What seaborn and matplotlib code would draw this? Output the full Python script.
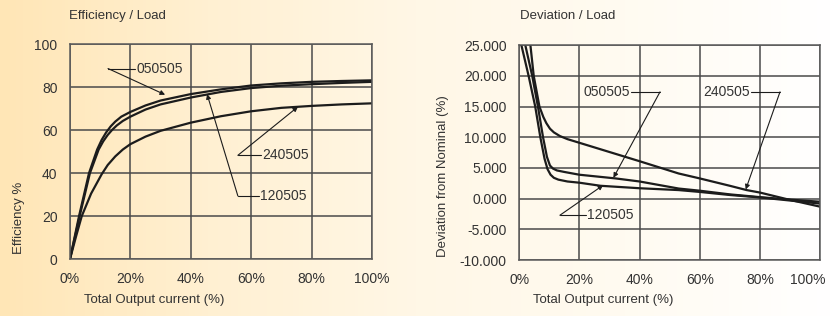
import matplotlib
matplotlib.use("Agg")
import matplotlib.pyplot as plt
from matplotlib.colors import LinearSegmentedColormap
from matplotlib.ticker import FuncFormatter
from matplotlib.transforms import ScaledTranslation
import numpy as np
import pandas as pd
import seaborn as sns

# efficiency vs load (% of total output current)
eff_050505_x = [0, 3.0, 6.3, 9, 10.5, 12, 13.5, 15, 17, 20, 25, 30, 40, 50, 60, 70, 80, 90, 100]
eff_050505_y = [0, 20, 40, 51, 55.5, 59, 61.8, 64, 66.3, 68.5, 71.5, 73.8, 76.8, 79, 80.8, 81.8, 82.5, 82.9, 83.2]
eff_120505_x = [0, 3.2, 6.6, 9.5, 11, 12.5, 14, 15.5, 17.5, 20, 25, 30, 40, 50, 60, 70, 80, 90, 100]
eff_120505_y = [0, 20, 40, 51, 54.8, 57.8, 60.2, 62.2, 64.3, 66.3, 69.6, 72, 75.2, 77.8, 79.6, 80.7, 81.4, 82, 82.5]
eff_240505_x = [0, 2, 3.9, 7, 10.5, 12.5, 15, 17.5, 20, 25, 30, 40, 50, 60, 70, 80, 90, 100]
eff_240505_y = [0, 10.5, 20, 30.5, 39.5, 43.8, 47.8, 51, 53.5, 57, 59.7, 63.5, 66.5, 68.8, 70.4, 71.3, 72, 72.5]

# deviation from nominal vs load
dev_050505_x = [2.0, 4.3, 6.2, 7.9, 9.2, 10.2, 11.2, 12.5, 15, 20, 32, 40, 53, 60, 70, 80, 90, 100]
dev_050505_y = [25, 20, 15, 10, 6.8, 5.4, 4.9, 4.6, 4.35, 3.9, 3.3, 2.8, 1.65, 1.3, 0.7, 0.25, -0.15, -0.5]
dev_120505_x = [0.7, 3.1, 5.3, 7.0, 8.4, 9.4, 10.4, 11.5, 13, 16, 20, 27, 40, 53, 60, 70, 80, 90, 100]
dev_120505_y = [25, 20, 15, 10, 6.5, 4.8, 3.9, 3.4, 3.1, 2.8, 2.6, 2.1, 1.7, 1.4, 1.1, 0.6, 0.2, -0.3, -0.8]
dev_240505_x = [3.7, 4.8, 6.7, 8.0, 9.0, 10.2, 11.5, 13.5, 16, 20, 30, 40, 53, 60, 70, 75.6, 80, 90, 100]
dev_240505_y = [25, 20, 15, 13.3, 12.3, 11.4, 10.8, 10.2, 9.7, 9.1, 7.6, 6.1, 4.1, 3.3, 2.1, 1.4, 1.0, -0.2, -1.3]

x_ticks = [0, 20, 40, 60, 80, 100]
eff_ticks = [0, 20, 40, 60, 80, 100]
dev_ticks = [-10, -5, 0, 5, 10, 15, 20, 25]


def long_frame(series):
    rows = []
    for name, xs, ys in series:
        rows += [{"model": name, "load": x, "value": y} for x, y in zip(xs, ys)]
    return pd.DataFrame(rows)


eff = long_frame([("050505", eff_050505_x, eff_050505_y),
                  ("120505", eff_120505_x, eff_120505_y),
                  ("240505", eff_240505_x, eff_240505_y)])
dev = long_frame([("050505", dev_050505_x, dev_050505_y),
                  ("120505", dev_120505_x, dev_120505_y),
                  ("240505", dev_240505_x, dev_240505_y)])

sns.set_style("white")
plt.rcParams["font.family"] = ["Liberation Sans", "DejaVu Sans"]
TEXT = "#333333"
GRID = "#4a4a4a"
LINE = "#1c1c1c"

fig = plt.figure(figsize=(8.33, 3.16), dpi=100)

# warm gradient background
bg = fig.add_axes([0, 0, 1, 1], zorder=-10)
cmap = LinearSegmentedColormap.from_list(
    "warm", [(0, "#ffe6b6"), (0.25, "#fff0d2"), (0.5, "#fff7e6"), (0.75, "#fffbf1"), (1, "#ffffff")])
bg.imshow(np.linspace(0, 1, 256)[None, :], aspect="auto", cmap=cmap, extent=[0, 1, 0, 1])
bg.axis("off")

ax1 = fig.add_axes([0.084, 0.180, 0.3625, 0.680])
ax2 = fig.add_axes([0.6234, 0.177, 0.361, 0.680])

palette = {"050505": LINE, "120505": LINE, "240505": LINE}
sns.lineplot(data=eff, x="load", y="value", hue="model", palette=palette,
             linewidth=1.6, legend=False, ax=ax1)
sns.lineplot(data=dev, x="load", y="value", hue="model", palette=palette,
             linewidth=1.6, legend=False, ax=ax2)

ax1.set_ylim(0, 100)
ax1.set_yticks(eff_ticks)
ax2.set_ylim(-10, 25)
ax2.set_yticks(dev_ticks)
ax2.yaxis.set_major_formatter(FuncFormatter(lambda v, p: f"{v:.3f}"))

for ax in (ax1, ax2):
    ax.set_facecolor("none")
    ax.set_xlim(0, 100)
    ax.set_xticks(x_ticks)
    ax.set_xticklabels([f"{t}%" for t in x_ticks])
    ax.grid(True, color=GRID, linewidth=1.1)
    ax.set_axisbelow(True)
    for s in ax.spines.values():
        s.set_color("#5a5a5a")
        s.set_linewidth(1.1)
    ax.tick_params(length=0, labelsize=10, colors=TEXT, pad=9)
    ax.set_xlabel("Total Output current (%)", fontsize=9.5, color=TEXT)
    ax.xaxis.set_label_coords(0.28, -0.16)

# last tick label of the right chart sits a little inward, as in the original
last = ax2.get_xticklabels()[-1]
last.set_transform(last.get_transform() + ScaledTranslation(-12 / 100, 0, fig.dpi_scale_trans))

ax1.set_ylabel("Efficiency %", fontsize=9.5, color=TEXT)
ax1.yaxis.set_label_coords(-0.15, 0.19)
ax2.set_ylabel("Deviation from Nominal (%)", fontsize=9.5, color=TEXT)
ax2.yaxis.set_label_coords(-0.235, 0.39)

fig.text(69 / 833, 1 - 16 / 316, "Efficiency / Load", fontsize=9.5, color=TEXT, va="center")
fig.text(520 / 833, 1 - 16 / 316, "Deviation / Load", fontsize=9.5, color=TEXT, va="center")


def callout(ax, label, tip, elbow, text_x, side="right"):
    ax.annotate("", xy=tip, xytext=elbow,
                arrowprops=dict(arrowstyle="-|>", color=LINE, lw=0.8,
                                mutation_scale=7, shrinkA=0, shrinkB=0))
    ax.plot([elbow[0], text_x], [elbow[1], elbow[1]], color=LINE, lw=0.8)
    ha = "left" if side == "right" else "right"
    ax.text(text_x + (0.4 if side == "right" else -0.4), elbow[1], label,
            ha=ha, va="center", fontsize=10, color=TEXT)


callout(ax1, "050505", tip=(31.5, 76.5), elbow=(12.6, 88.7), text_x=21.5)
callout(ax1, "120505", tip=(45.4, 76.8), elbow=(55.6, 29.4), text_x=62.5)
callout(ax1, "240505", tip=(75.5, 70.9), elbow=(55.6, 48.3), text_x=63.2)

callout(ax2, "050505", tip=(31.3, 3.4), elbow=(46.8, 17.4), text_x=37.2, side="left")
callout(ax2, "240505", tip=(75.3, 1.5), elbow=(86.7, 17.4), text_x=77.0, side="left")
callout(ax2, "120505", tip=(27.9, 2.2), elbow=(13.5, -2.7), text_x=22.2)

fig.savefig("out.png", dpi=100)
